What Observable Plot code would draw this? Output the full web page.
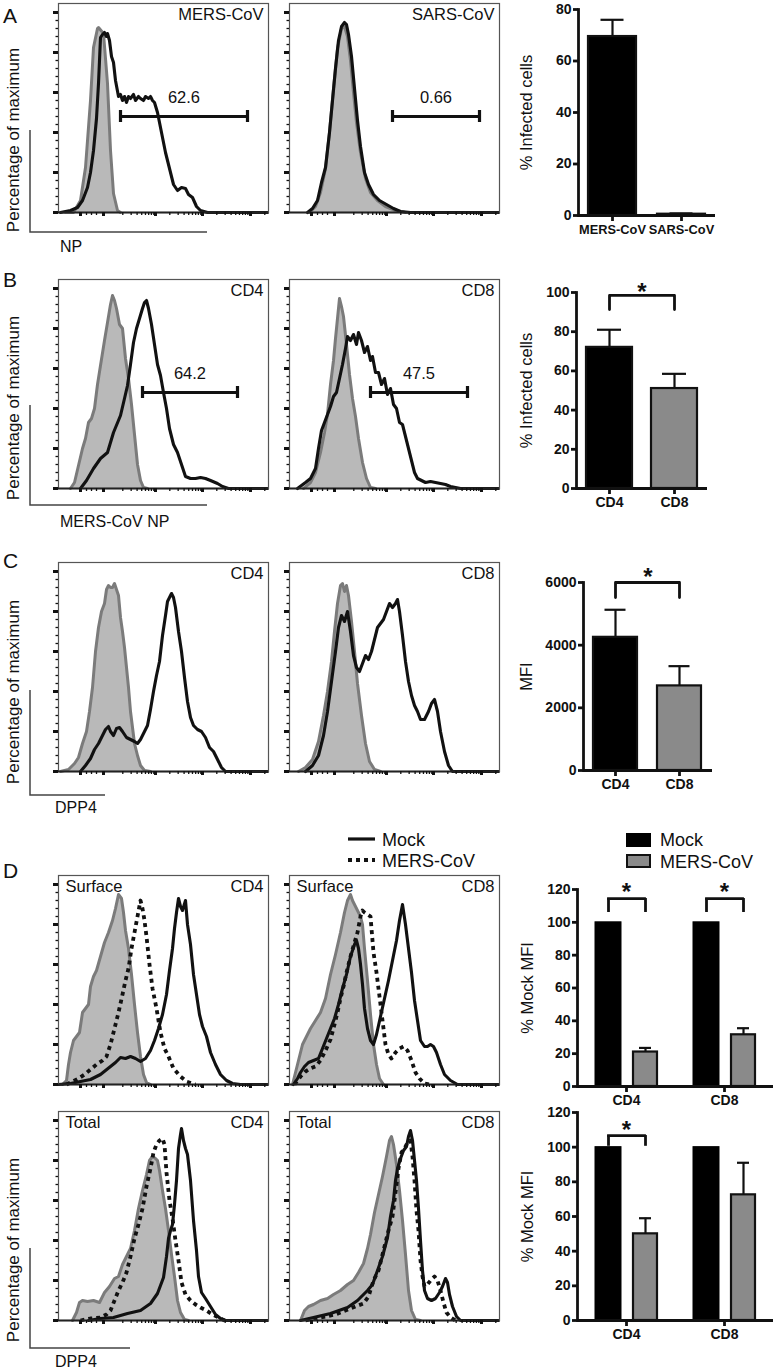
<!DOCTYPE html>
<html><head><meta charset="utf-8">
<script src="https://cdn.jsdelivr.net/npm/d3@7"></script>
<script src="https://cdn.jsdelivr.net/npm/@observablehq/plot@0.6"></script>
<style>
body{margin:0;background:#fff;}
#fig{position:relative;width:778px;height:1370px;overflow:hidden;font-family:'Liberation Sans',Arial,Helvetica,sans-serif;background:#fff;}
.p{position:absolute;}
.p svg{display:block;overflow:visible;max-width:none;}
#ov{position:absolute;left:0;top:0;pointer-events:none;}
</style></head><body><div id="fig"></div>
<script>
const FONT = "'Liberation Sans', Arial, Helvetica, sans-serif";

// ---------- Histogram data: [channel, % of max] ----------
// Panel A
const aMersGray  = [[7,0],[15,0],[22,6],[27,22.5],[32,56],[35,82.5],[39,92],[40,92.5],[45,89.5],[49,64.5],[52,31],[55,9.5],[59,1],[62,0]];
const aMersBlack = [[2,0],[12,1],[19,2.5],[24,6],[29,12.5],[32,20],[35,31],[38,47],[40,64.5],[42,87.5],[44,89],[46,90],[48,88],[49,89.5],[51,86],[53,78],[55,75],[57,66],[60,58],[62,59],[64,56],[66,58],[68,55],[70,58],[72,57],[75,59],[77,56],[80,58],[82,57],[85,56],[87,58],[90,57],[92,58],[94,56],[96,55],[99,50],[103,40],[107,30],[111,22],[115,14],[119,11],[123,12.5],[127,12],[130,9],[134,7.5],[138,3],[142,1],[149,0],[209,0]];
const aSarsGray  = [[20,0],[26,3],[31,10],[36,22],[40,40],[44,62],[48,82],[52,92],[55,93],[58,88],[61,76],[64,60],[67,45],[71,30],[76,17],[81,10],[88,6],[96,3],[106,1],[116,0]];
const aSarsBlack = [[18,0],[23,2],[28,6],[32,15],[36,22.5],[40,40],[43,56],[46,72],[49,86],[52,93],[55,95],[57,94],[59,89],[62,78],[65,62],[68,46],[71,33],[75,20],[79,14],[84,9],[90,6],[97,4],[104,2],[111,0.5],[121,0],[209,0]];
// Panel B
const bCd4Gray  = [[12,0],[16,3],[20,11.5],[24,20],[27,25],[30,33],[33,35],[36,40],[39,52],[42,61.5],[46,74],[49,83],[52,92],[54,96.5],[56,94],[58,90],[61,82],[64,80],[67,65],[70,55],[73,42],[76,27],[79,12],[82,4],[85,0.5],[89,0]];
const bCd4Black = [[22,0],[28,4],[35,10],[42,15],[49,18],[55,28],[62,36.5],[66,45],[69,51.5],[72,62],[75,73],[78,80],[81,85],[84,90],[86,93],[88,94],[90,90],[93,82],[96,72],[99,62],[102,56.5],[105,48],[108,40],[111,30],[115,22],[119,18],[123,12],[127,6],[132,5],[137,5],[142,5.5],[147,5],[152,4],[159,2.5],[164,1],[170,0],[209,0]];
const bCd8Gray  = [[14,0],[21,3],[26,8],[31,18],[35,28],[38,37],[41,52],[44,64],[46,75],[48,85],[50,95],[52,91],[54,86],[57,72],[60,57],[63,45],[66,36],[69,25],[73,13],[77,5],[81,0.5],[86,0]];
const bCd8Black = [[8,0],[16,3],[21,5],[26,10],[29,20],[32,29],[35,33],[38,37],[41,41],[44,46],[47,48],[50,55],[53,62],[56,70],[58,76],[61,74],[64,77],[67,72],[69,78],[72,74],[75,68],[78,71],[81,64],[83,66],[86,58],[89,58],[92,52],[95,55],[98,47],[101,50],[104,42],[107,40],[110,33],[113,32],[116,26],[119,20],[122,14],[125,8],[128,5],[132,4],[136,3],[141,3.5],[146,3],[151,2.5],[156,2],[161,1],[166,0.5],[171,0],[209,0]];
// Panel C
const cCd4Gray  = [[2,0],[10,1],[16,4],[20,7],[24,14],[28,20],[31,30],[34,42],[37,60],[40,72],[43,80],[46,84],[48,91],[50,93],[52,92],[54,92],[56,94],[58,91],[60,88],[62,77],[64,70],[66,62],[68,52],[70,42],[72,30],[74,22],[76,14],[79,8],[82,3],[86,0.5],[92,0]];
const cCd4Black = [[22,0],[27,3],[32,6.5],[36,11],[40,14],[44,18],[47,21],[50,22.5],[52,20],[55,18],[58,21.5],[61,22],[64,20],[68,17],[72,16],[76,15],[79,14],[82,16],[85,19],[89,23],[92,31],[95,40],[98,48],[101,55],[104,68],[107,78],[109,85],[111,87],[113,89],[115,87],[117,82],[120,70],[123,60],[126,47],[129,35],[132,27],[135,23],[139,21],[143,20],[147,17],[151,12],[155,10],[159,6],[163,2],[167,0],[209,0]];
const cCd8Gray  = [[9,0],[16,2],[23,6],[29,15],[34,28],[38,40],[42,55],[45,70],[48,84],[51,93],[53,94],[55,90],[57,93],[59,88],[62,75],[65,60],[68,44],[72,28],[76,14],[80,5],[85,1],[91,0]];
const cCd8Black = [[16,0],[23,3],[29,8],[34,18],[38,30],[42,45],[46,60],[49,72],[52,78],[55,75],[58,80],[61,70],[64,58],[67,52],[70,50],[73,54],[76,58],[79,56],[82,60],[85,66],[88,72],[91,74],[94,76],[97,80],[100,84],[103,82],[106,84],[108,86],[110,80],[113,68],[116,55],[119,45],[122,38],[125,33],[128,30],[131,26],[135,26],[139,30],[142,34],[145,36],[148,30],[151,20],[155,10],[159,3],[163,0],[209,0]];
// Panel D, surface staining
const dSurfCd4Gray = [[4,0],[8,2],[10,10],[12,16],[15,22],[18,24],[21,26],[24,36],[27,38],[30,40],[32,49],[35,54],[38,57],[42,64],[46,71],[50,76],[54,82],[57,88],[60,95],[63,93],[65,86],[67,77],[70,68],[73,55],[76,40],[79,26],[82,14],[85,5],[88,1],[92,0]];
const dSurfCd4Mers = [[8,0],[14,1.5],[20,3],[26,5],[32,7.5],[38,10],[44,12],[48,14],[52,20],[56,28],[60,36],[64,45],[67,52],[70,58],[73,68],[76,76],[79,84],[82,92],[84,88],[86,82],[88,74],[91,60],[94,48],[98,38],[102,26],[106,18],[110,14],[115,8],[122,4],[128,1.5],[137,0]];
const dSurfCd4Mock = [[0,0],[12,0.5],[22,1.5],[32,2.5],[42,5],[52,9],[57,11],[62,13.5],[67,13],[72,14],[77,13],[82,11.5],[87,13],[92,17],[96,22],[100,28],[104,35],[108,45],[111,57],[114,68],[116,78],[118,86],[120,93],[122,89],[124,87],[127,92],[129,80],[132,70],[135,55],[138,45],[141,35],[144,29],[148,24],[152,16],[157,10],[162,5],[168,2],[174,0.5],[182,0],[209,0]];
const dSurfCd8Gray = [[3,0],[6,6],[9,12],[13,20],[17,24],[21,28],[26,32],[31,36],[36,43],[41,55],[46,65],[51,76],[55,86],[58,92],[61,95],[63,92],[65,90],[68,87],[71,84],[73,80],[75,68],[78,52],[81,35],[84,20],[87,10],[90,3],[94,0]];
const dSurfCd8Mers = [[5,0],[11,4],[16,6.5],[21,8],[26,9],[31,12],[36,17],[41,22.5],[45,30],[48,36],[51,43],[54,49],[57,56],[61,64],[65,71],[68,76],[71,84],[73,87],[75,86],[78,85],[81,84],[84,66],[87,56],[90,44],[93,32],[96,20],[99,15],[102,13],[106,16],[110,18],[114,19],[118,17],[122,12],[126,6],[130,3],[135,0.5],[141,0]];
const dSurfCd8Mock = [[4,0],[8,3],[11,6],[15,9],[19,11],[24,12],[29,13],[33,18],[37,23],[41,28],[45,33],[49,40],[53,48],[57,55],[61,64],[65,70],[67,72],[69,68],[71,60],[73,50],[75,38],[78,28],[81,22],[84,20],[87,25],[91,34],[95,43],[99,52],[103,62],[107,72],[110,82],[113,90],[116,80],[119,68],[122,56],[125,42],[128,32],[131,22],[135,19],[138,19],[141,20],[144,19],[147,16],[151,10],[155,5],[161,2],[168,0],[209,0]];
// Panel D, total staining
const dTotCd4Gray = [[14,0],[18,4],[21,9],[24,10],[29,9.5],[35,10],[41,9],[46,14],[51,17],[56,21],[60,22],[64,28],[68,32],[72,36],[76,45],[80,56],[84,65],[88,73],[91,80],[94,82],[97,81],[99,80],[101,75],[104,65],[107,56],[110,45],[113,33],[116,22],[119,10],[122,4],[126,0.5],[130,0]];
const dTotCd4Mers = [[22,0],[32,1],[42,1.5],[48,3],[52,5],[56,10],[60,15],[64,19],[68,24],[72,32],[76,41],[80,48],[84,56],[88,67],[92,76],[95,84],[98,88],[101,90],[104,91],[106,88],[108,74],[111,60],[114,51],[117,40],[120,30],[123,19],[127,13],[132,10],[137,8],[142,6.5],[148,5],[154,3],[160,1.5],[166,0]];
const dTotCd4Mock = [[30,0],[42,1],[55,1.5],[69,3.5],[82,5],[92,8.5],[99,13.5],[105,21.5],[108,32],[110,41],[112,45],[114,48],[116,58],[118,70],[120,86],[122,93],[123,96],[125,90],[127,86],[129,83],[132,70],[135,50],[138,35],[140,22],[143,14],[147,11],[152,7],[157,3],[162,1],[167,0],[209,0]];
const dTotCd8Gray = [[11,0],[15,5],[19,7],[24,8],[31,10],[38,11],[44,13],[51,15],[58,18],[64,20],[69,24],[74,28.5],[78,36],[81,43],[85,54],[89,63],[93,72],[97,82],[100,90],[102,92],[104,88],[107,78],[110,65],[113,50],[116,33],[119,15],[122,5],[126,0.5],[131,0]];
const dTotCd8Mers = [[16,0],[26,1],[36,2],[46,3],[56,5],[66,7],[74,8.5],[79,12],[84,20],[89,25],[94,35],[99,45],[103,52],[106,64],[109,76],[112,84],[115,86],[118,89],[121,90],[123,82],[125,70],[127,55],[129,45],[131,30],[133,22],[135,17],[138,18],[141,20],[145,22],[148,20],[151,15],[154,9],[157,4],[161,1.5],[166,0]];
const dTotCd8Mock = [[11,0],[24,1.5],[41,3.5],[58,6.5],[68,10],[78,15],[83,18],[88,25],[93,32],[98,41.5],[101,52],[104,60],[106,70],[108,76],[111,81],[114,85],[117,87],[119,92],[121,95],[123,90],[125,80],[127,70],[129,56],[131,40],[133,25],[135,15],[138,11],[142,10],[146,11],[150,14],[153,17],[156,21],[158,19],[160,13],[163,7],[167,2],[171,0],[209,0]];

// Gates (panel A, B)
const aGateMers = {x1: 62, x2: 189, y: 48, label: "62.6"};
const aGateSars = {x1: 103, x2: 190, y: 48, label: "0.66"};
const bGateCd4  = {x1: 84, x2: 179, y: 48, label: "64.2"};
const bGateCd8  = {x1: 81, x2: 178, y: 48, label: "47.5"};

// Histogram axis ticks
const histYMajor = [0, 20, 40, 60, 80, 100];
const histYMinor = d3.range(4, 104, 4).filter(v => v % 20 !== 0);
const histXMajor = [22, 45, 97, 144, 192];
const histDecadeStarts = [50, 97, 144, 192];
const histDecadeWidth = 47.5;
const histXMinor = histDecadeStarts.flatMap(s => d3.range(2, 10).map(k => s + histDecadeWidth * Math.log10(k))).filter(v => v < 210).concat([28, 33, 38]);

// ---------- Bar chart data ----------
const aCats = ["MERS-CoV", "SARS-CoV"];
const aMeans = [69.5, 0.5];
const aErrs = [76, 0.8];
const aFills = ["#000", "#000"];

const bCats = ["CD4", "CD8"];
const bMeans = [72, 51];
const bErrs = [81, 58.5];
const bFills = ["#000", "#8a8a8a"];

const cCats = ["CD4", "CD8"];
const cMeans = [4250, 2700];
const cErrs = [5130, 3330];
const cFills = ["#000", "#8a8a8a"];

const dGroups = ["CD4", "CD8"];
const dSurfMock = [100, 100];
const dSurfMers = [21, 31.5];
const dSurfMersErr = [23.5, 35.5];
const dTotMock = [100, 100];
const dTotMers = [50, 72.5];
const dTotMersErr = [59, 91];
const dSurfSig = [{g: "CD4", top: 114.5, low: 106, star: 118}, {g: "CD8", top: 114.5, low: 106, star: 118}];
const dTotSig = [{g: "CD4", top: 106.7, low: 100.5, star: 109.5}];

// ---------- helpers ----------
const fig = document.getElementById("fig");
function place(plot, left, top, w) {
  const d = document.createElement("div");
  d.className = "p"; d.style.left = left + "px"; d.style.top = top + "px"; d.style.width = w + "px";
  d.appendChild(plot); fig.appendChild(d);
}
const X = d => d[0], Y = d => d[1];
const baseStyle = {fontFamily: FONT, background: "transparent", overflow: "visible", color: "#111"};
const TICK_FS = 14, YLAB_FS = 16.5, STAR_FS = 24;
const DASH = "4 4";

function histo({gray, solid, dotted, gate, tl, tr}) {
  return Plot.plot({
    width: 217, height: 218, marginLeft: 6, marginRight: 1, marginTop: 1, marginBottom: 8,
    style: baseStyle,
    x: {domain: [0, 210]},
    y: {domain: [0, 104.5]},
    marks: [
      Plot.areaY(gray, {x: X, y: Y, fill: "#b9b9b9"}),
      Plot.lineY(gray, {x: X, y: Y, stroke: "#7b7b7b", strokeWidth: 3, strokeLinejoin: "round"}),
      dotted ? Plot.lineY(dotted, {x: X, y: Y, stroke: "#111", strokeWidth: 3.8, strokeDasharray: DASH, strokeLinecap: "butt"}) : null,
      Plot.lineY(solid, {x: X, y: Y, stroke: "#111", strokeWidth: 3.1, strokeLinejoin: "round"}),
      gate ? [
        Plot.ruleY([gate], {x1: "x1", x2: "x2", y: "y", stroke: "#111", strokeWidth: 3}),
        Plot.ruleX([gate.x1, gate.x2], {x: d => d, y1: gate.y - 3, y2: gate.y + 3, stroke: "#111", strokeWidth: 3.2}),
        Plot.text([gate], {x: d => (d.x1 + d.x2) / 2, y: "y", text: "label", dy: -19, fontSize: 16.5, fill: "#111"})
      ] : null,
      Plot.frame({stroke: "#555", strokeWidth: 1.2}),
      Plot.ruleY([0], {stroke: "#222", strokeWidth: 2.2}),
      Plot.axisY({ticks: histYMajor, tickSize: 5, tickFormat: () => "", strokeWidth: 3, stroke: "#111", label: null}),
      Plot.axisY({ticks: histYMinor, tickSize: 2.5, tickFormat: () => "", strokeWidth: 1.3, stroke: "#111", label: null}),
      Plot.axisX({ticks: histXMajor, tickSize: 4, tickFormat: () => "", strokeWidth: 3, stroke: "#111", label: null}),
      Plot.axisX({ticks: histXMinor, tickSize: 3, tickFormat: () => "", strokeWidth: 1.3, stroke: "#111", label: null}),
      tl ? Plot.text([tl], {text: d => d, frameAnchor: "top-left", textAnchor: "start", lineAnchor: "top", dx: 7, dy: 5, fontSize: 16.5, fill: "#111"}) : null,
      tr ? Plot.text([tr], {text: d => d, frameAnchor: "top-right", textAnchor: "end", lineAnchor: "top", dx: -5, dy: 5, fontSize: 16.5, fill: "#111"}) : null
    ]
  });
}

function barPlot({cats, means, errs, fills, yDomain, yTicks, yLabel, labelDx, capInset, bracket, pad, xfs, m}) {
  const data = cats.map((c, i) => ({cat: c, v: means[i], e: errs[i], f: fills[i]}));
  return Plot.plot({
    width: m.w, height: m.h, marginLeft: m.l, marginRight: m.r, marginTop: m.t, marginBottom: m.b,
    style: baseStyle,
    x: {domain: cats, paddingInner: pad[0], paddingOuter: pad[1]},
    y: {domain: yDomain},
    color: {type: "identity"},
    marks: [
      Plot.ruleX(data, {x: "cat", y1: "v", y2: "e", stroke: "#111", strokeWidth: 2.2}),
      Plot.tickY(data, {x: "cat", y: "e", stroke: "#111", strokeWidth: 2.2, insetLeft: capInset, insetRight: capInset}),
      Plot.barY(data, {x: "cat", y: "v", fill: "f", stroke: "#111", strokeWidth: 2.2}),
      bracket ? Plot.line(bracket.pts, {x: "cat", y: "y", stroke: "#111", strokeWidth: 2.8}) : null,
      bracket ? Plot.text(["*"], {y: () => bracket.star, text: d => d, fontSize: STAR_FS, fontWeight: "bold", fill: "#111"}) : null,
      Plot.ruleY([0], {stroke: "#111", strokeWidth: 2.8}),
      Plot.frame({anchor: "left", stroke: "#111", strokeWidth: 2.8}),
      Plot.axisY({ticks: yTicks, tickSize: 5, tickPadding: 2, tickFormat: d => String(d), fontSize: TICK_FS, fontWeight: "bold", strokeWidth: 2.8, stroke: "#111", label: null}),
      Plot.axisX({tickSize: 6, tickPadding: 3, fontSize: xfs || TICK_FS, fontWeight: "bold", strokeWidth: 2.8, stroke: "#111", label: null}),
      Plot.text([yLabel], {text: d => d, frameAnchor: "left", dx: labelDx, rotate: -90, textAnchor: "middle", fontSize: YLAB_FS, fill: "#111"})
    ]
  });
}

function groupPlot({mock, mers, mersErr, sig, m}) {
  const data = dGroups.map((g, i) => ({g, mock: mock[i], mers: mers[i], err: mersErr[i]}));
  return Plot.plot({
    width: m.w, height: m.h, marginLeft: m.l, marginRight: m.r, marginTop: m.t, marginBottom: m.b,
    style: baseStyle,
    x: {domain: dGroups, paddingInner: 0.364, paddingOuter: 0.172},
    y: {domain: [0, 120]},
    marks: [
      Plot.barY(data, {x: "g", y: "mock", fill: "#000", stroke: "#000", strokeWidth: 1, insetRight: 36}),
      Plot.ruleX(data, {x: "g", y1: "mers", y2: "err", dx: 19, stroke: "#111", strokeWidth: 2.2}),
      Plot.tickY(data, {x: "g", y: "err", insetLeft: 44, insetRight: 6, stroke: "#111", strokeWidth: 2.2}),
      Plot.barY(data, {x: "g", y: "mers", fill: "#8a8a8a", stroke: "#111", strokeWidth: 2.2, insetLeft: 38}),
      Plot.tickY(sig, {x: "g", y: "top", insetLeft: 13.5, insetRight: 12.5, stroke: "#111", strokeWidth: 2.8, strokeLinecap: "square"}),
      Plot.ruleX(sig, {x: "g", y1: "low", y2: "top", dx: -18, stroke: "#111", strokeWidth: 2.8}),
      Plot.ruleX(sig, {x: "g", y1: "low", y2: "top", dx: 19, stroke: "#111", strokeWidth: 2.8}),
      Plot.text(sig, {x: "g", y: "star", text: () => "*", fontSize: STAR_FS, fontWeight: "bold", fill: "#111"}),
      Plot.ruleY([0], {stroke: "#111", strokeWidth: 2.8}),
      Plot.frame({anchor: "left", stroke: "#111", strokeWidth: 2.8}),
      Plot.axisY({ticks: [0, 20, 40, 60, 80, 100, 120], tickSize: 5, tickPadding: 2, tickFormat: d => String(d), fontSize: TICK_FS, fontWeight: "bold", strokeWidth: 2.8, stroke: "#111", label: null}),
      Plot.axisX({tickSize: 6, tickPadding: 3, fontSize: TICK_FS, fontWeight: "bold", strokeWidth: 2.8, stroke: "#111", label: null}),
      Plot.text(["% Mock MFI"], {text: d => d, frameAnchor: "left", dx: -50, rotate: -90, textAnchor: "middle", fontSize: YLAB_FS, fill: "#111"})
    ]
  });
}

// ---------- Panel A ----------
place(histo({gray: aMersGray, solid: aMersBlack, gate: aGateMers, tr: "MERS-CoV"}), 52, 2, 217);
place(histo({gray: aSarsGray, solid: aSarsBlack, gate: aGateSars, tr: "SARS-CoV"}), 283, 2, 217);
place(barPlot({cats: aCats, means: aMeans, errs: aErrs, fills: aFills, yDomain: [0, 80], yTicks: [0, 20, 40, 60, 80],
  yLabel: "% Infected cells", labelDx: -52, capInset: 12.5, pad: [0.3, 0.13], xfs: 12.8,
  m: {w: 230, h: 245, l: 78, r: 15, t: 9, b: 30}}), 500, 0, 230);

// ---------- Panel B ----------
place(histo({gray: bCd4Gray, solid: bCd4Black, gate: bGateCd4, tr: "CD4"}), 52, 278, 217);
place(histo({gray: bCd8Gray, solid: bCd8Black, gate: bGateCd8, tr: "CD8"}), 283, 278, 217);
place(barPlot({cats: bCats, means: bMeans, errs: bErrs, fills: bFills, yDomain: [0, 100], yTicks: [0, 20, 40, 60, 80, 100],
  yLabel: "% Infected cells", labelDx: -50, capInset: 11, pad: [0.3, 0.15],
  bracket: {pts: [{cat: "CD4", y: 91.3}, {cat: "CD4", y: 98.5}, {cat: "CD8", y: 98.5}, {cat: "CD8", y: 91.3}], star: 100},
  m: {w: 230, h: 253, l: 76, r: 23, t: 27, b: 30}}), 500, 265, 230);

// ---------- Panel C ----------
place(histo({gray: cCd4Gray, solid: cCd4Black, tr: "CD4"}), 52, 561, 217);
place(histo({gray: cCd8Gray, solid: cCd8Black, tr: "CD8"}), 283, 561, 217);
place(barPlot({cats: cCats, means: cMeans, errs: cErrs, fills: cFills, yDomain: [0, 6000], yTicks: [0, 2000, 4000, 6000],
  yLabel: "MFI", labelDx: -57, capInset: 11.5, pad: [0.31, 0.16],
  bracket: {pts: [{cat: "CD4", y: 5520}, {cat: "CD4", y: 6000}, {cat: "CD8", y: 6000}, {cat: "CD8", y: 5520}], star: 6150},
  m: {w: 230, h: 270, l: 83, r: 18, t: 52, b: 30}}), 500, 530, 230);

// ---------- Panel D ----------
place(histo({gray: dSurfCd4Gray, solid: dSurfCd4Mock, dotted: dSurfCd4Mers, tl: "Surface", tr: "CD4"}), 52, 874, 217);
place(histo({gray: dSurfCd8Gray, solid: dSurfCd8Mock, dotted: dSurfCd8Mers, tl: "Surface", tr: "CD8"}), 283, 874, 217);
place(groupPlot({mock: dSurfMock, mers: dSurfMers, mersErr: dSurfMersErr, sig: dSurfSig,
  m: {w: 278, h: 316, l: 77, r: 5, t: 89, b: 30}}), 500, 800, 278);
place(histo({gray: dTotCd4Gray, solid: dTotCd4Mock, dotted: dTotCd4Mers, tl: "Total", tr: "CD4"}), 52, 1110, 217);
place(histo({gray: dTotCd8Gray, solid: dTotCd8Mock, dotted: dTotCd8Mers, tl: "Total", tr: "CD8"}), 283, 1110, 217);
place(groupPlot({mock: dTotMock, mers: dTotMers, mersErr: dTotMersErr, sig: dTotSig,
  m: {w: 278, h: 260, l: 77, r: 5, t: 22, b: 30}}), 500, 1090, 278);

// ---------- annotations: panel letters, axis names, legends ----------
const NS = "http://www.w3.org/2000/svg";
const ov = document.createElementNS(NS, "svg");
ov.setAttribute("id", "ov"); ov.setAttribute("width", 778); ov.setAttribute("height", 1370);
ov.setAttribute("font-family", FONT); ov.setAttribute("fill", "#111");
function el(tag, attrs, txt) {
  const e = document.createElementNS(NS, tag);
  for (const k in attrs) e.setAttribute(k, attrs[k]);
  if (txt != null) e.textContent = txt;
  ov.appendChild(e); return e;
}
const panelLetters = [["A", 23], ["B", 287], ["C", 568], ["D", 878]];
panelLetters.forEach(([t, y]) => el("text", {x: 3, y, "font-size": 21}, t));
const yNameCenters = [140, 408, 692, 1250];
yNameCenters.forEach(c => el("text", {transform: `translate(19,${c}) rotate(-90)`, "text-anchor": "middle", "font-size": 17}, "Percentage of maximum"));
const scaleBars = [[130, 232, 207], [405, 505, 207], [690, 795, 105], [1248, 1348, 130]];
scaleBars.forEach(([y0, y1, x1]) => el("path", {d: `M30,${y0}V${y1}H${x1}`, fill: "none", stroke: "#444", "stroke-width": 1.5}));
const xNames = [["NP", 60, 252], ["MERS-CoV NP", 60, 527], ["DPP4", 55, 813], ["DPP4", 55, 1367]];
xNames.forEach(([t, x, y]) => el("text", {x, y, "font-size": 16}, t));
// histogram legend
el("path", {d: "M348,839H375", stroke: "#111", "stroke-width": 3.2});
el("path", {d: "M348,860H375", stroke: "#111", "stroke-width": 3.8, "stroke-dasharray": DASH});
el("text", {x: 382, y: 846, "font-size": 18}, "Mock");
el("text", {x: 382, y: 867, "font-size": 18}, "MERS-CoV");
// bar legend
el("rect", {x: 626, y: 833, width: 25, height: 14, fill: "#000"});
el("rect", {x: 627, y: 855, width: 23, height: 12, fill: "#8a8a8a", stroke: "#111", "stroke-width": 2});
el("text", {x: 660, y: 846, "font-size": 18}, "Mock");
el("text", {x: 660, y: 868, "font-size": 18}, "MERS-CoV");
fig.appendChild(ov);
</script></body></html>
